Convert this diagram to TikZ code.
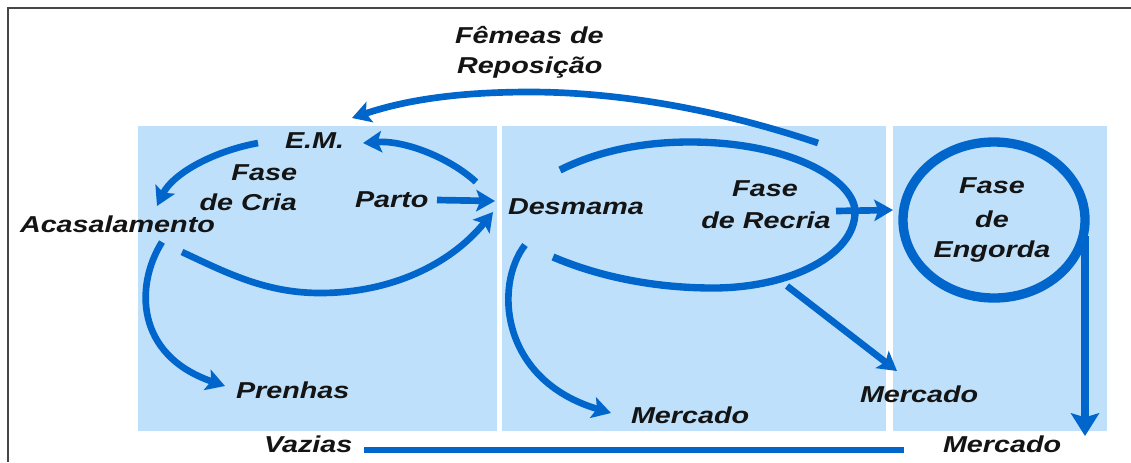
\documentclass[tikz,border=0pt]{standalone}
\usepackage{fontspec}
\newfontfamily\labfont{Liberation Sans}[FakeStretch=1.25]
\usetikzlibrary{arrows.meta}
\definecolor{panelblue}{RGB}{190,224,250}
\definecolor{flowblue}{RGB}{0,102,204}
\definecolor{inkblack}{RGB}{20,20,20}
\definecolor{framegray}{RGB}{70,70,70}
\tikzset{
  panel/.style={fill=panelblue, draw=none},
  lab/.style={inner sep=0pt, outer sep=0pt, text=inkblack,
    font=\labfont\bfseries\itshape\fontsize{17.25}{20}\selectfont},
  flow/.style={draw=flowblue, line width=5pt},
  headtip/.style={-{Stealth[length=14pt,width=16pt,inset=3pt]}},
  bigtip/.style={-{Stealth[length=17pt,width=21pt,inset=3pt]}},
}
\begin{document}
\begin{tikzpicture}[x=0.75pt,y=-0.75pt]
\useasboundingbox (0,0) rectangle (1131,462);
\fill[white] (0,0) rectangle (1131,462);
% frame
\draw[framegray, line width=1.2pt] (8,462) -- (8,8) -- (1131,8);
% panels
\fill[panel] (138,126) rectangle (497,431);
\fill[panel] (502,126) rectangle (886,431);
\fill[panel] (893,126) rectangle (1107,431);

% labels
\node[lab, anchor=base west] (femeas) at (455,43) {Fêmeas de};
\node[lab, anchor=base west] (repos) at (457,73) {Reposição};
\node[lab, anchor=base west] (em) at (285,148) {E.M.};
\node[lab, anchor=base east] (fasecria) at (297,180) {Fase};
\node[lab, anchor=base east] (decria) at (297,210) {de Cria};
\node[lab, anchor=base west] (parto) at (355,207) {Parto};
\node[lab, anchor=base west] (acasal) at (20,232) {Acasalamento};
\node[lab, anchor=base west] (desmama) at (508,214) {Desmama};
\node[lab, anchor=base] (faserecria) at (765,196) {Fase};
\node[lab, anchor=base] (derecria) at (766,228) {de Recria};
\node[lab, anchor=base] (faseeng) at (992,193) {Fase};
\node[lab, anchor=base] (deeng) at (992,227) {de};
\node[lab, anchor=base] (engorda) at (992,257) {Engorda};
\node[lab, anchor=base west] (prenhas) at (236,398) {Prenhas};
\node[lab, anchor=base west] (vazias) at (264,452) {Vazias};
\node[lab, anchor=base west] (merc1) at (631,423) {Mercado};
\node[lab, anchor=base west] (merc2) at (860,402) {Mercado};
\node[lab, anchor=base west] (merc3) at (943,452) {Mercado};

% connector end points
\coordinate (repA) at (818,143);
\coordinate (repB) at (352,118);
\coordinate (emA) at (258,143);
\coordinate (acB) at (157,206);
\coordinate (desA) at (476,182);
\coordinate (emB) at (363,143);
\coordinate (partoA) at (437,200);
\coordinate (partoB) at (495,201);
\coordinate (lowA) at (182,252);
\coordinate (lowB) at (493,212);
\coordinate (preA) at (162,242);
\coordinate (preB) at (225,386);
\coordinate (recA) at (560,170);
\coordinate (recB) at (553,257);
\coordinate (dmA) at (525,245);
\coordinate (dmB) at (611,413);
\coordinate (reA) at (836,211);
\coordinate (reB) at (893,210);
\coordinate (rmA) at (787,286);
\coordinate (rmB) at (897,371);
\coordinate (engC) at (994,220);
\coordinate (engA) at (1085,236);
\coordinate (engB) at (1085,436);
\coordinate (vazA) at (364,450);
\coordinate (vazB) at (904,450);

% flows
\draw[flow, headtip] (repA) .. controls (720,110) and (620,92) .. (530,92)
   .. controls (450,92) and (400,102) .. (repB);
\draw[flow, headtip] (emA) .. controls (210,152) and (172,175) .. (acB);
\draw[flow, headtip] (desA) .. controls (450,158) and (405,140) .. (emB);
\draw[flow, headtip] (partoA) -- (partoB);
\draw[flow, headtip] (lowA) .. controls (225,272) and (265,293) .. (320,293)
   .. controls (390,293) and (450,265) .. (lowB);
\draw[flow, headtip] (preA) .. controls (135,285) and (135,355) .. (preB);
\draw[flow, line width=5.5pt] (recA) .. controls (600,150) and (645,142) .. (690,142)
   .. controls (790,142) and (855,180) .. (855,212)
   .. controls (855,255) and (790,288) .. (713,288)
   .. controls (650,288) and (595,275) .. (recB);
\draw[flow, headtip] (dmA) .. controls (494,285) and (500,380) .. (dmB);
\draw[flow, headtip] (reA) -- (reB);
\draw[flow, headtip] (rmA) -- (rmB);
\draw[flow, line width=7pt] (engC) ellipse [x radius=91, y radius=78];
\draw[flow, line width=5.5pt, bigtip] (engA) -- (engB);
\draw[flow] (vazA) -- (vazB);
\end{tikzpicture}
\end{document}
